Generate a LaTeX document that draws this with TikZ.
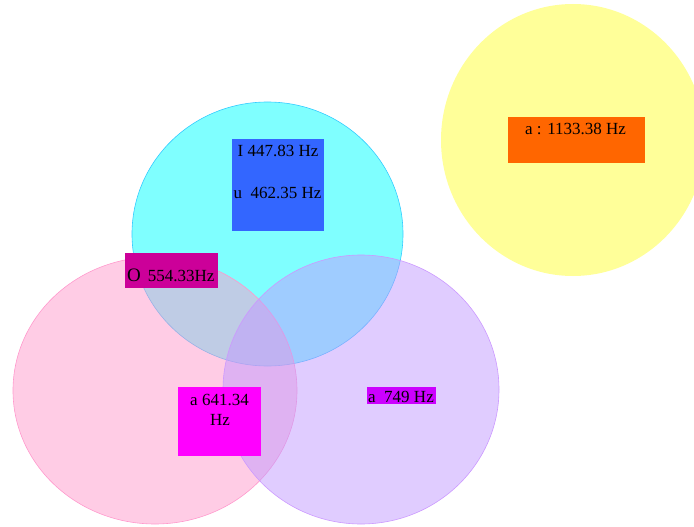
\documentclass[tikz,border=0pt]{standalone}
\usepackage{fontspec}
\setmainfont{Liberation Serif}
\begin{document}
\begin{tikzpicture}[x=1pt,y=-1pt,
  setfill/.style={fill opacity=0.5, draw opacity=1, line width=0.6pt},
  box/.style={anchor=north west, inner sep=0pt, draw=none},
  lbl/.style={inner sep=0pt, font=\fontsize{17}{20}\selectfont, text=black}]
\definecolor{cyanfill}{HTML}{00FFFF}
\definecolor{cyanline}{HTML}{33CCFF}
\definecolor{pinkfill}{HTML}{FF99CC}
\definecolor{pinkline}{HTML}{FF99CC}
\definecolor{purpfill}{HTML}{C199FF}
\definecolor{purpline}{HTML}{CC99FF}
\definecolor{yelfill}{HTML}{FFFF33}
\definecolor{bluebox}{HTML}{3366FF}
\definecolor{obox}{HTML}{CC0099}
\definecolor{magbox}{HTML}{FF00FF}
\definecolor{purbox}{HTML}{CC00FF}
\definecolor{orabox}{HTML}{FF6600}
\useasboundingbox (0,0) rectangle (694,527);
\clip (0,0) rectangle (694,527);
% sets
\fill[yelfill, fill opacity=0.5] (573,140) ellipse [x radius=132pt, y radius=136pt];
\filldraw[setfill, fill=cyanfill, draw=cyanline] (267.5,234) ellipse [x radius=135.5pt, y radius=132pt];
\filldraw[setfill, fill=pinkfill, draw=pinkline] (155,390.5) ellipse [x radius=142pt, y radius=133.5pt];
\filldraw[setfill, fill=purpfill, draw=purpline] (361,389.5) ellipse [x radius=138pt, y radius=134.5pt];
% label boxes
\node[box, fill=bluebox, minimum width=92pt, minimum height=92pt] (bbox) at (232,139) {};
\node[box, fill=obox, minimum width=93pt, minimum height=35pt] (ob) at (125,253) {};
\node[box, fill=magbox, minimum width=83pt, minimum height=69pt] (mb) at (178,387) {};
\node[box, fill=purbox, minimum width=69pt, minimum height=17pt] (pb) at (367,387) {};
\node[box, fill=orabox, minimum width=137pt, minimum height=46pt] (orb) at (508,117) {};
% texts
\node[lbl, anchor=base] (t1) at (278,157) {I 447.83 Hz};
\node[lbl, anchor=base] (t2) at (277.5,198) {u\ \ 462.35 Hz};
\node[lbl, anchor=base west] (t3) at (127,281) {{\fontsize{19}{20}\selectfont O}\hspace{7pt}554.33Hz};
\node[lbl, anchor=base] (t4) at (219.5,405) {a 641.34};
\node[lbl, anchor=base] (t5) at (220,425) {Hz};
\node[lbl, anchor=base] (t6) at (401,402) {a\ \ 749 Hz};
\node[lbl, anchor=base] (t7) at (575.5,134) {a : 1133.38 Hz};
\end{tikzpicture}
\end{document}
